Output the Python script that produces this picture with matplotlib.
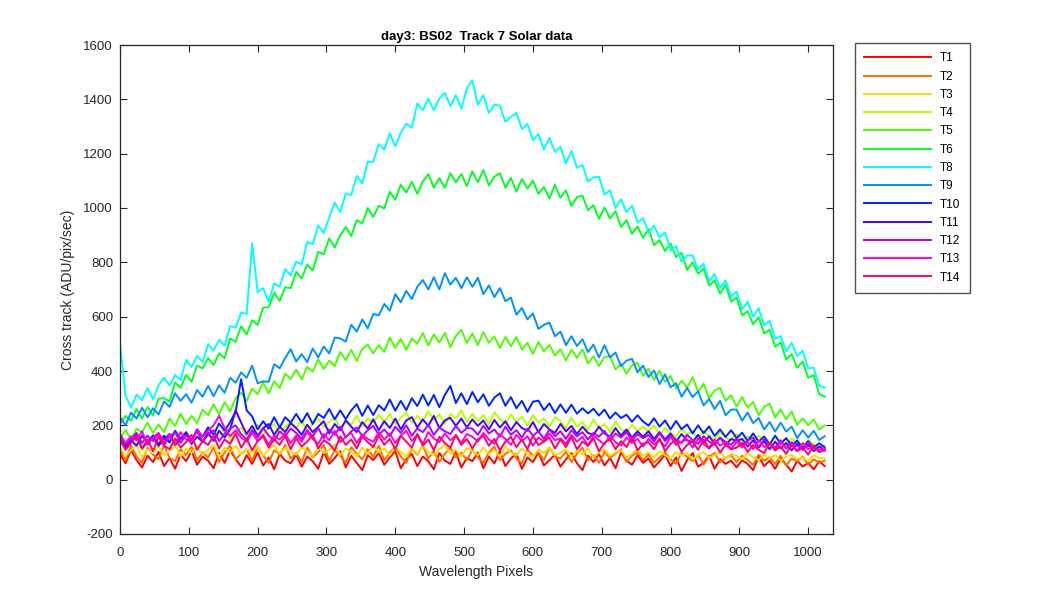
import matplotlib
matplotlib.use("Agg")
import matplotlib.pyplot as plt
import numpy as np
from matplotlib.colors import hsv_to_rgb

plt.rcParams['font.family'] = ['Liberation Sans', 'DejaVu Sans']
plt.rcParams['axes.unicode_minus'] = False

# wavelength pixel positions (every 8th pixel)
pixels = np.arange(0, 1025, 8)

t1 = [95, 60, 110, 72, 45, 88, 65, 102, 50, 80, 40, 92, 68, 105, 55, 85,
      70, 42, 98, 62, 108, 75, 48, 90, 58, 100, 52, 82, 38, 95, 70, 60,
      92, 48, 85, 68, 40, 102, 58, 80, 105, 45, 88, 62, 35, 90, 72, 98,
      55, 82, 105, 42, 75, 95, 50, 85, 68, 38, 98, 70, 58, 102, 45, 80,
      68, 100, 42, 85, 60, 105, 50, 78, 95, 40, 82, 65, 100, 52, 72, 92,
      48, 75, 98, 60, 35, 88, 65, 95, 52, 80, 42, 100, 70, 55, 90, 62,
      78, 45, 68, 92, 50, 82, 32, 72, 98, 48, 62, 88, 40, 75, 58, 70,
      45, 72, 58, 35, 85, 50, 70, 40, 78, 55, 30, 70, 48, 62, 38, 68,
      50]
t2 = [110, 70, 125, 85, 62, 118, 92, 75, 128, 80, 68, 112, 90, 122, 72, 100,
      82, 118, 65, 100, 125, 75, 95, 112, 70, 122, 88, 62, 108, 92, 128, 78,
      98, 65, 118, 82, 100, 128, 70, 108, 88, 62, 120, 95, 75, 112, 85, 125,
      72, 100, 122, 85, 62, 115, 92, 125, 78, 105, 65, 95, 118, 82, 100, 72,
      110, 82, 62, 100, 122, 72, 95, 108, 78, 60, 112, 88, 100, 72, 118, 85,
      78, 102, 65, 95, 118, 72, 90, 62, 102, 80, 95, 112, 65, 88, 100, 72,
      92, 62, 82, 100, 75, 58, 98, 85, 68, 92, 55, 85, 98, 65, 80, 90,
      65, 88, 72, 55, 92, 70, 82, 58, 88, 52, 78, 68, 85, 55, 75, 62,
      70]
t3 = [118, 88, 108, 128, 82, 112, 98, 125, 90, 108, 130, 85, 115, 98, 122, 92,
      110, 128, 85, 118, 100, 125, 92, 112, 98, 122, 88, 110, 128, 95, 118, 102,
      92, 118, 105, 85, 122, 98, 110, 130, 90, 115, 102, 85, 118, 95, 125, 100,
      115, 90, 122, 102, 85, 118, 95, 125, 102, 90, 112, 128, 95, 110, 85, 118,
      105, 90, 118, 95, 110, 85, 122, 100, 90, 115, 95, 85, 112, 98, 118, 90,
      98, 112, 85, 108, 92, 115, 82, 100, 112, 88, 100, 108, 82, 95, 110, 88,
      100, 82, 105, 90, 78, 102, 88, 98, 75, 92, 102, 80, 90, 100, 78, 95,
      88, 75, 98, 82, 72, 92, 80, 90, 70, 85, 92, 75, 82, 68, 90, 80,
      78]
t4 = [145, 115, 138, 158, 110, 135, 150, 122, 162, 138, 118, 152, 168, 130, 158, 140,
      175, 145, 162, 188, 148, 178, 192, 158, 182, 202, 165, 188, 205, 170, 195, 212,
      190, 218, 180, 205, 225, 192, 212, 230, 185, 220, 202, 235, 195, 225, 210, 238,
      212, 242, 205, 228, 248, 208, 235, 215, 252, 220, 240, 205, 242, 225, 255, 212,
      242, 215, 238, 205, 248, 222, 208, 240, 212, 232, 198, 238, 210, 225, 195, 230,
      215, 190, 228, 195, 212, 182, 222, 190, 205, 175, 215, 185, 172, 202, 180, 195,
      178, 200, 165, 190, 172, 158, 188, 165, 180, 152, 178, 162, 148, 175, 155, 145,
      168, 140, 160, 135, 162, 145, 130, 158, 140, 125, 152, 135, 120, 148, 130, 118,
      125]
t5 = [150, 183, 148, 187, 175, 210, 172, 203, 175, 225, 198, 243, 205, 235, 208, 258,
      237, 277, 240, 285, 252, 300, 320, 290, 335, 315, 358, 318, 362, 337, 390, 370,
      405, 370, 415, 398, 443, 407, 438, 418, 470, 440, 478, 437, 482, 497, 465, 495,
      470, 523, 486, 518, 478, 520, 500, 540, 494, 535, 505, 540, 488, 529, 552, 503,
      538, 495, 543, 504, 527, 485, 525, 491, 525, 479, 504, 462, 507, 472, 496, 457,
      480, 439, 478, 448, 480, 428, 454, 418, 451, 455, 406, 426, 390, 421, 430, 382,
      408, 367, 401, 360, 382, 336, 364, 339, 377, 323, 353, 300, 328, 338, 291, 311,
      269, 304, 265, 286, 237, 268, 280, 229, 258, 222, 251, 202, 226, 200, 222, 184,
      200]
t6 = [205, 235, 217, 260, 225, 267, 237, 298, 300, 288, 358, 338, 385, 360, 420, 410,
      447, 422, 465, 447, 520, 507, 565, 535, 587, 570, 633, 635, 688, 658, 708, 705,
      765, 740, 792, 770, 838, 830, 888, 855, 900, 930, 897, 955, 943, 1000, 967, 1008,
      998, 1060, 1030, 1085, 1057, 1097, 1052, 1097, 1125, 1075, 1110, 1075, 1128, 1095, 1125, 1080,
      1135, 1095, 1140, 1083, 1115, 1128, 1075, 1110, 1060, 1107, 1072, 1100, 1052, 1077, 1035, 1085,
      1038, 1065, 1007, 1040, 1045, 992, 1010, 960, 1002, 962, 988, 930, 955, 905, 932, 890,
      923, 863, 882, 842, 870, 820, 835, 772, 800, 758, 777, 715, 733, 685, 718, 655,
      670, 605, 620, 572, 598, 538, 552, 490, 505, 442, 462, 412, 435, 375, 385, 315,
      305]
t8 = [500, 310, 265, 313, 293, 337, 295, 348, 375, 347, 385, 367, 440, 415, 455, 433,
      498, 475, 515, 493, 565, 560, 615, 610, 870, 690, 705, 655, 722, 710, 775, 752,
      802, 792, 875, 867, 935, 908, 965, 1020, 985, 1053, 1048, 1118, 1090, 1170, 1170, 1235,
      1215, 1275, 1227, 1277, 1310, 1295, 1385, 1360, 1403, 1360, 1403, 1423, 1375, 1415, 1365, 1440,
      1470, 1380, 1415, 1350, 1380, 1377, 1317, 1335, 1350, 1290, 1310, 1250, 1272, 1215, 1258, 1207,
      1225, 1165, 1210, 1148, 1158, 1097, 1113, 1115, 1050, 1065, 1000, 1032, 985, 1008, 947, 962,
      910, 935, 892, 910, 843, 860, 802, 825, 825, 775, 795, 730, 757, 707, 733, 675,
      692, 627, 655, 600, 630, 568, 585, 518, 528, 472, 503, 455, 475, 410, 412, 345,
      340]
t9 = [230, 200, 247, 225, 265, 230, 263, 240, 288, 268, 318, 290, 315, 283, 330, 305,
      345, 307, 347, 320, 375, 357, 395, 375, 420, 355, 362, 360, 425, 410, 448, 480,
      435, 462, 433, 483, 450, 490, 465, 523, 520, 508, 570, 545, 590, 557, 610, 605,
      647, 622, 683, 653, 695, 665, 710, 735, 700, 745, 700, 760, 718, 743, 705, 745,
      710, 743, 683, 715, 672, 705, 657, 670, 607, 632, 590, 612, 555, 570, 578, 528,
      545, 495, 528, 492, 517, 470, 497, 450, 495, 450, 468, 418, 438, 445, 395, 420,
      378, 402, 352, 388, 340, 355, 305, 338, 304, 325, 273, 297, 260, 290, 237, 258,
      258, 217, 247, 208, 227, 185, 212, 177, 210, 177, 195, 153, 182, 155, 180, 146,
      160]
t10 = [155, 115, 145, 125, 162, 137, 163, 130, 162, 137, 180, 150, 175, 143, 185, 158,
       193, 165, 207, 180, 212, 250, 370, 255, 233, 185, 215, 188, 230, 192, 230, 210,
       242, 210, 245, 205, 242, 227, 260, 222, 255, 223, 255, 278, 235, 273, 238, 274,
       255, 295, 254, 290, 256, 300, 271, 313, 273, 312, 267, 312, 345, 282, 318, 278,
       323, 285, 314, 272, 302, 318, 272, 304, 263, 290, 250, 287, 291, 256, 281, 245,
       277, 246, 276, 243, 263, 244, 261, 236, 258, 225, 247, 227, 239, 213, 237, 214,
       199, 226, 195, 218, 185, 216, 186, 203, 170, 200, 171, 196, 161, 185, 157, 182,
       153, 173, 143, 170, 140, 159, 130, 162, 132, 153, 124, 144, 117, 142, 118, 134,
       119]
t11 = [152, 122, 145, 165, 115, 140, 158, 125, 148, 168, 128, 150, 170, 132, 158, 140,
       172, 142, 180, 155, 185, 255, 210, 168, 198, 162, 190, 205, 165, 195, 175, 208,
       190, 165, 202, 175, 195, 215, 170, 205, 182, 218, 195, 175, 212, 188, 222, 182,
       215, 190, 225, 185, 218, 230, 192, 222, 198, 235, 190, 218, 228, 198, 225, 192,
       222, 198, 218, 185, 220, 192, 215, 182, 212, 190, 180, 212, 175, 205, 185, 172,
       205, 178, 198, 168, 195, 172, 165, 195, 170, 158, 190, 162, 185, 155, 178, 158,
       178, 150, 175, 148, 170, 140, 168, 145, 138, 165, 135, 160, 132, 155, 128, 150,
       142, 150, 122, 145, 118, 142, 112, 140, 115, 135, 108, 132, 110, 128, 105, 122,
       108]
t12 = [155, 130, 150, 172, 135, 162, 142, 170, 128, 158, 175, 135, 165, 145, 178, 140,
       165, 182, 142, 170, 188, 200, 168, 148, 182, 155, 190, 162, 145, 178, 160, 188,
       172, 150, 182, 160, 190, 152, 185, 165, 195, 155, 178, 192, 160, 182, 198, 165,
       185, 160, 195, 172, 200, 162, 188, 175, 202, 165, 192, 178, 168, 198, 172, 190,
       188, 165, 198, 170, 185, 158, 195, 165, 182, 155, 188, 162, 178, 150, 185, 160,
       178, 150, 182, 160, 175, 148, 172, 158, 180, 145, 170, 155, 175, 142, 168, 152,
       165, 140, 172, 142, 162, 148, 135, 165, 145, 132, 160, 140, 128, 155, 138, 128,
       152, 125, 145, 155, 120, 148, 130, 118, 145, 115, 138, 125, 112, 138, 118, 110,
       115]
t13 = [168, 135, 160, 145, 178, 128, 155, 172, 138, 165, 130, 175, 148, 138, 182, 158,
       180, 200, 235, 190, 160, 182, 155, 140, 172, 142, 165, 130, 162, 148, 170, 135,
       162, 140, 175, 150, 132, 168, 145, 180, 138, 158, 172, 135, 165, 150, 140, 175,
       148, 170, 135, 162, 180, 142, 165, 132, 175, 152, 138, 170, 145, 162, 135, 168,
       158, 140, 172, 148, 132, 168, 150, 128, 165, 142, 160, 125, 155, 140, 170, 145,
       152, 132, 165, 140, 158, 125, 162, 145, 130, 162, 138, 125, 155, 135, 150, 122,
       150, 130, 145, 122, 158, 128, 140, 148, 118, 152, 130, 115, 148, 125, 140, 112,
       140, 118, 138, 112, 145, 120, 132, 108, 140, 115, 128, 105, 135, 112, 125, 102,
       115]
t14 = [145, 110, 135, 160, 115, 148, 105, 158, 125, 112, 152, 118, 138, 165, 110, 142,
       128, 162, 115, 148, 132, 170, 118, 150, 108, 142, 160, 118, 148, 128, 162, 112,
       152, 122, 140, 165, 115, 145, 132, 108, 160, 128, 148, 115, 158, 138, 120, 162,
       128, 150, 112, 162, 140, 118, 168, 125, 148, 108, 158, 135, 118, 165, 128, 150,
       115, 148, 162, 125, 150, 108, 140, 158, 120, 148, 112, 162, 128, 140, 155, 115,
       148, 120, 158, 112, 140, 125, 152, 105, 135, 150, 112, 142, 120, 158, 108, 132,
       138, 112, 152, 105, 132, 145, 102, 128, 140, 110, 148, 115, 135, 100, 128, 112,
       118, 135, 102, 128, 110, 98, 135, 108, 122, 95, 130, 105, 118, 92, 125, 102,
       108]

labels = ['T1', 'T2', 'T3', 'T4', 'T5', 'T6', 'T8', 'T9', 'T10', 'T11', 'T12', 'T13', 'T14']
track_nums = [1, 2, 3, 4, 5, 6, 8, 9, 10, 11, 12, 13, 14]
series = [t1, t2, t3, t4, t5, t6, t8, t9, t10, t11, t12, t13, t14]

fig = plt.figure(figsize=(10.5, 6), dpi=100)
ax = fig.add_axes([0.1143, 0.11, 0.679, 0.815])

# hsv colormap with 14 entries, like the original track palette
for n, lab, vals in zip(track_nums, labels, series):
    col = hsv_to_rgb(((n - 1) / 14.0, 1.0, 1.0))
    ax.plot(pixels, vals, color=col, lw=1.4, label=lab)

ax.set_xlim(0, 1036)
ax.set_ylim(-200, 1600)
ax.set_xticks(np.arange(0, 1001, 100))
ax.set_yticks(np.arange(-200, 1601, 200))
ax.tick_params(direction='in', length=5, width=0.8, top=True, right=True,
               labelsize=9.5, colors='0.15')
ax.tick_params(axis='x', pad=9)
ax.tick_params(axis='y', pad=5)
for sp in ax.spines.values():
    sp.set_color('0.15')
    sp.set_linewidth(0.9)

ax.set_title('day3: BS02  Track 7 Solar data', fontsize=9.5, fontweight='bold', pad=3.5)
ax.set_xlabel('Wavelength Pixels', fontsize=10, color='0.15', labelpad=5)
ax.set_ylabel('Cross track (ADU/pix/sec)', fontsize=10, color='0.15', labelpad=6)

leg = fig.legend(loc='upper left', bbox_to_anchor=(0.8143, 0.9283), fontsize=8.5,
                 frameon=True, fancybox=False, edgecolor='0.15', handlelength=5.6,
                 labelspacing=0.53, borderpad=0.8, handletextpad=0.8, borderaxespad=0)
leg.get_frame().set_linewidth(1.0)

fig.savefig('out.png', dpi=100)
